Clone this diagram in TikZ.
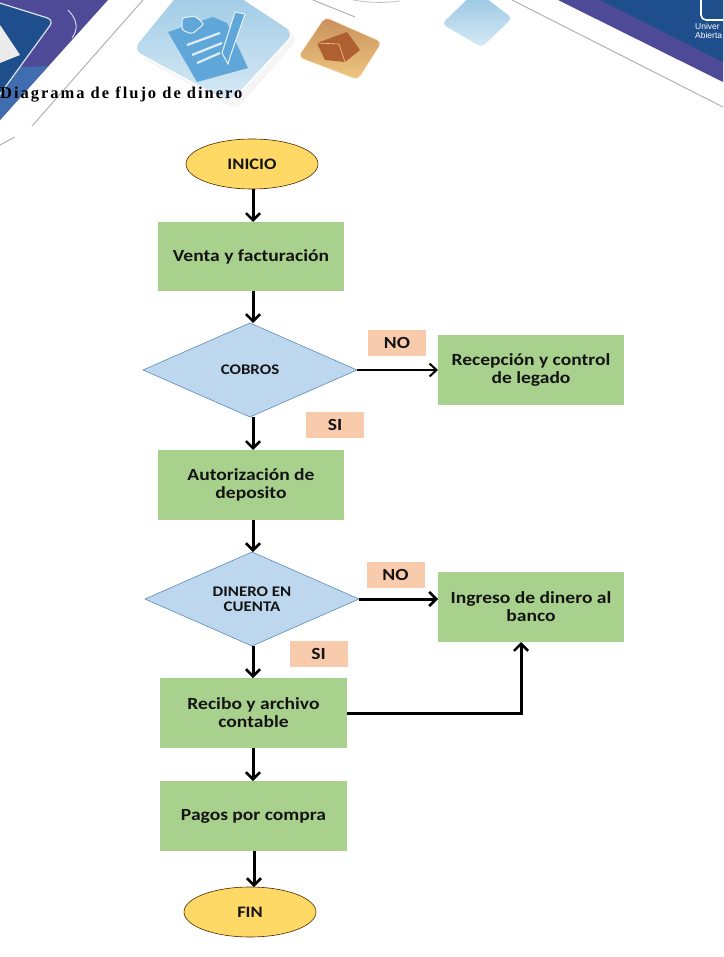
\documentclass[tikz,border=0pt]{standalone}
\usepackage{fontspec}
\setmainfont[FakeStretch=1.15]{Carlito}
\newfontfamily\titlefont[LetterSpace=12]{Liberation Serif}
\newfontfamily\logofont{Liberation Sans}
\usetikzlibrary{arrows.meta,shapes.geometric,calc}
\definecolor{boxgreen}{HTML}{A9D18E}
\definecolor{decblue}{HTML}{BDD7EE}
\definecolor{decline}{HTML}{5B8DB8}
\definecolor{startyellow}{HTML}{FFD966}
\definecolor{labelpeach}{HTML}{F8CBAD}
\definecolor{navy}{HTML}{1F4E8C}
\definecolor{bandpurple}{HTML}{4F4A98}
\definecolor{bandblue}{HTML}{3F6DB0}
\definecolor{tiletop}{HTML}{93C4E2}
\definecolor{tilebottom}{HTML}{D8EAF5}
\definecolor{iconblue}{HTML}{5FA7D8}
\definecolor{cratetop}{HTML}{C98F5C}
\definecolor{cratebottom}{HTML}{EDC780}
\definecolor{crateicon}{HTML}{AE6030}
\definecolor{txt}{HTML}{141414}
\tikzset{
  x=1pt,y=1pt,
  procbox/.style={draw=none,fill=boxgreen,rectangle,minimum width=186pt,minimum height=70pt,
    align=center,font=\bfseries\fontsize{17}{18}\selectfont,text=txt,inner sep=0pt,outer sep=0pt},
  terminal/.style={draw=black!70!orange,line width=0.6pt,fill=startyellow,ellipse,minimum width=132pt,minimum height=50pt,
    font=\bfseries\fontsize{16}{18}\selectfont,text=txt,inner sep=0pt,outer sep=0pt},
  decision/.style={draw=decline,line width=0.6pt,fill=decblue,diamond,minimum width=214pt,minimum height=94pt,aspect=2.27,
    align=center,font=\bfseries\fontsize{14.7}{14.5}\selectfont,text=txt,inner sep=0pt,outer sep=0pt},
  answer/.style={fill=labelpeach,rectangle,minimum width=58pt,minimum height=26pt,
    font=\bfseries\fontsize{17}{18}\selectfont,text=txt,inner sep=0pt,outer sep=0pt},
  flow/.style={line width=3pt,black,-{Straight Barb[length=7pt,width=14pt,line width=2.6pt]}},
  flowthin/.style={line width=2pt,black,-{Straight Barb[length=7pt,width=13pt,line width=2pt]}},
  hairline/.style={draw=black!30,line width=1pt},
}
\begin{document}
\begin{tikzpicture}
\useasboundingbox (0,0) rectangle (723,-957);
\begin{scope}
  \clip (0,0) rectangle (723,-957);
  % banner, left corner
  \fill[bandpurple] (0,0) -- (108,0) -- (0,-120) -- cycle;
  \fill[bandblue] (0,-68) -- (48,-66) -- (0,-120) -- cycle;
  \draw[fill=navy,line width=1.2pt,draw=white!85!navy,rounded corners=7pt] (-10,0) -- (54,-20) -- (-10,-108);
  \fill[white!92!black] (0,-25) -- (20,-55) -- (0,-63) -- cycle;
  \draw[white!75!bandpurple,line width=1pt] (68,-10) .. controls (78,-20) and (78,-30) .. (72,-38);
  \draw[hairline] (143,0) -- (32,-126);
  \draw[hairline] (15,-137) -- (0,-145);
  % banner, right corner
  \fill[bandpurple] (558,0) -- (723,-82) -- (723,0) -- cycle;
  \fill[navy] (600,0) -- (723,-62) -- (723,0) -- cycle;
  \draw[hairline] (512,0) -- (723,-107);
  \draw[hairline] (313,0) -- (355,-17);
  \draw[black!25,line width=0.8pt] (353,0) .. controls (370,-3) and (385,-3) .. (400,-1);
  \draw[white,line width=1.6pt,rounded corners=5pt] (701,0) -- (701,-20) -- (723,-20);
  \node[anchor=west,text=white,font=\logofont\fontsize{8.5}{8.5}\selectfont,align=left,inner sep=0pt] (brand) at (695,-31) {Univer\\Abierta};
  % clipboard tile with its soft shadow
  \fill[black!4,rounded corners=10pt] (202,25) -- (299,-38) -- (236,-110) -- (138,-56) -- cycle;
  \shade[top color=tiletop,bottom color=tilebottom,draw=white,line width=1.2pt,rounded corners=10pt]
     (198,31) -- (295,-33) -- (230,-103) -- (132,-50) -- cycle;
  \fill[iconblue] (168,-32) -- (213,-17) -- (227,-23) -- (248,-68) -- (197,-82) -- cycle;
  \fill[iconblue,draw=white!85!iconblue,line width=1pt,rounded corners=2pt] (182,-18) -- (195,-16) -- (204,-24) -- (192,-34) -- (182,-30) -- cycle;
  \draw[white!80!iconblue,line width=2.2pt] (187,-45) -- (220,-33);
  \draw[white!80!iconblue,line width=2.2pt] (192,-55) -- (222,-43);
  \draw[white!80!iconblue,line width=2.2pt] (197,-63) -- (220,-53);
  \fill[iconblue,draw=white!85!iconblue,line width=1pt] (235,-12) -- (245,-14) -- (230,-57) -- (228,-64) -- (222,-53) -- cycle;
  % crate tile
  \shade[top color=cratetop,bottom color=cratebottom,draw=white!85!orange,line width=0.6pt,rounded corners=5pt]
     (325,-17) -- (382,-42) -- (358,-80) -- (298,-57) -- cycle;
  \fill[crateicon] (317,-43) -- (347,-32) -- (360,-50) -- (345,-62) -- (325,-60) -- cycle;
  \draw[white!60!orange,line width=0.6pt] (317,-43) -- (339,-44) -- (345,-62);
  % empty tile
  \shade[top color=tiletop,bottom color=tilebottom,draw=white,line width=0.8pt,rounded corners=5pt]
     (476,10) -- (513,-18) -- (482,-48) -- (441,-24) -- cycle;
\end{scope}
% heading
\node[anchor=west,inner sep=0pt,font=\titlefont\bfseries\fontsize{16.5}{18}\selectfont] (heading) at (0,-95) {Diagrama de flujo de dinero};

% flowchart nodes
\node[terminal] (inicio) at (252,-164) {INICIO};
\node[procbox,minimum height=69pt] (venta) at (251,-256.5) {Venta y facturación};
\node[decision] (cobros) at (250,-370) {COBROS};
\node[procbox] (recepcion) at (531,-370) {Recepción y control\\de legado};
\node[answer] (no1) at (397,-343) {NO};
\node[answer] (si1) at (335,-425) {SI};
\node[procbox] (autoriz) at (251,-485) {Autorización de\\deposito};
\node[decision] (dinero) at (252,-599) {DINERO EN\\CUENTA};
\node[procbox] (ingreso) at (531,-607) {Ingreso de dinero al\\banco};
\node[answer] (no2) at (395.5,-575) {NO};
\node[answer] (si2) at (318.5,-654) {SI};
\node[procbox,minimum width=187pt] (recibo) at (253.5,-713) {Recibo y archivo\\contable};
\node[procbox,minimum width=187pt] (pagos) at (253.5,-816) {Pagos por compra};
\node[terminal] (fin) at (250,-912) {FIN};

% connectors
\coordinate (axis) at (253,0);
\coordinate (axislow) at (254,0);
\draw[flow] (inicio.south -| axis) -- (venta.north -| axis);
\draw[flow] (venta.south -| axis) -- (cobros.north -| axis);
\draw[flow] (cobros.south -| axis) -- (autoriz.north -| axis);
\draw[flow] (autoriz.south -| axis) -- (dinero.north -| axis);
\draw[flow] (dinero.south -| axis) -- (recibo.north -| axis);
\draw[flow] (recibo.south -| axis) -- (pagos.north -| axis);
\draw[flow] (pagos.south -| axislow) -- (fin.north -| axislow);
\draw[flowthin] (cobros.east) -- (recepcion.west |- cobros.east);
\draw[flow] (dinero.east) -- (ingreso.west |- dinero.east);
\draw[flow] (recibo.east) -| ([xshift=-10pt]ingreso.south);
\end{tikzpicture}
\end{document}
